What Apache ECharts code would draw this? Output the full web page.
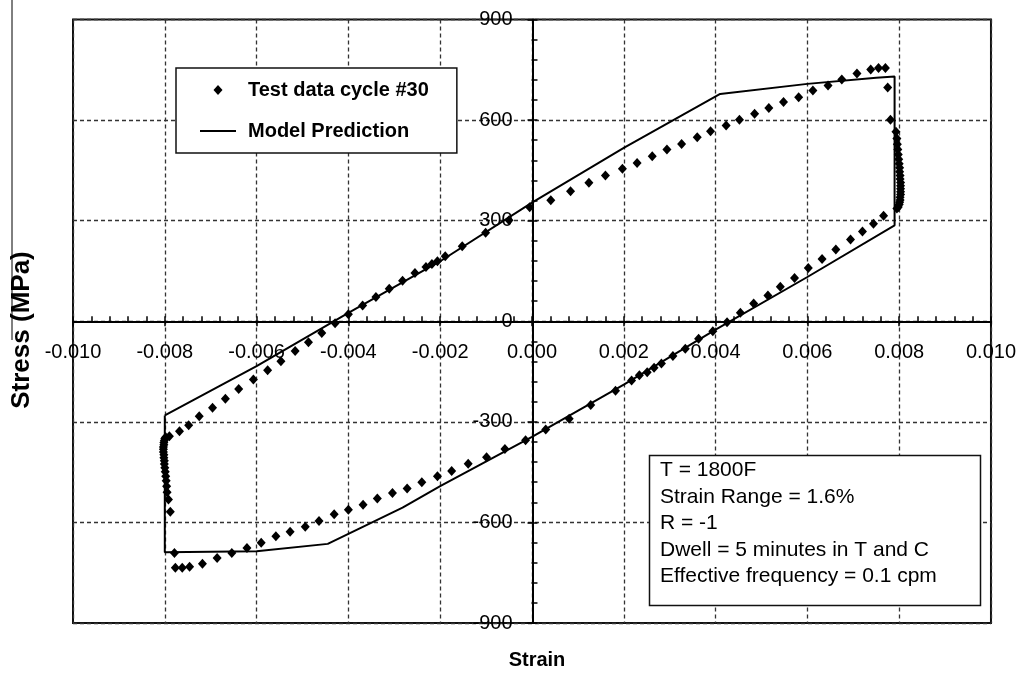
<!DOCTYPE html>
<html><head><meta charset="utf-8">
<script src="https://cdn.jsdelivr.net/npm/echarts@6/dist/echarts.min.js"></script>
<style>html,body{margin:0;padding:0;background:#fff}#c{width:1019px;height:673px}</style>
</head><body><div id="c"></div>
<script>
// ---- axis ticks ----
const xMin = -0.010, xMax = 0.010, xStep = 0.002;
const yMin = -900, yMax = 900, yStep = 300;
const xTickLabels = ['-0.010','-0.008','-0.006','-0.004','-0.002','0.000','0.002','0.004','0.006','0.008','0.010'];
const yTickLabels = ['-900','-600','-300','0','300','600','900'];

// ---- test data cycle #30 (strain, stress MPa) ----
const testStrain = [
 -0.00790,-0.00768,-0.00748,-0.00725,-0.00696,-0.00668,-0.00639,-0.00607,-0.00576,-0.00547,-0.00516,-0.00487,-0.00458,-0.00429,-0.00400,-0.00369,-0.00340,-0.00311,-0.00282,-0.00255,-0.00231,-0.00218,-0.00206,-0.00189,-0.00152,-0.00101,-0.00050,-0.00005,
 0.00041,0.00084,0.00124,0.00160,0.00197,0.00229,0.00262,0.00294,0.00326,0.00360,0.00389,0.00423,0.00452,0.00485,0.00516,0.00548,0.00581,0.00612,0.00645,0.00675,0.00708,0.00738,0.00755,0.00770,
 0.00775,0.00781,0.00793,0.00795,0.00796,0.00797,0.00798,0.00799,0.00800,0.00801,0.00801,0.00802,0.00802,0.00803,0.00803,0.00803,0.00803,0.00803,0.00802,0.00802,0.00801,0.00800,0.00798,0.00795,
 0.00766,0.00744,0.00720,0.00694,0.00662,0.00632,0.00602,0.00572,0.00541,0.00514,0.00483,0.00454,0.00425,0.00394,0.00363,0.00334,0.00307,0.00282,0.00266,0.00251,0.00234,0.00217,0.00182,0.00128,0.00081,0.00030,
 -0.00014,-0.00059,-0.00099,-0.00139,-0.00175,-0.00206,-0.00240,-0.00272,-0.00304,-0.00337,-0.00368,-0.00400,-0.00431,-0.00464,-0.00494,-0.00527,-0.00558,-0.00590,-0.00621,-0.00654,-0.00686,-0.00718,-0.00746,-0.00762,-0.00777,
 -0.00779,-0.00788,-0.00792,-0.00795,-0.00796,-0.00797,-0.00798,-0.00799,-0.00800,-0.00801,-0.00801,-0.00802,-0.00802,-0.00803,-0.00803,-0.00803,-0.00802,-0.00802,-0.00801,-0.00800,-0.00798
];
const testStress = [
 -343,-328,-310,-283,-258,-231,-202,-174,-146,-119,-89,-63,-35,-6,21,47,72,97,121,144,162,171,179,194,224,264,301,340,
 361,388,413,435,455,472,492,512,529,549,567,584,601,619,636,654,668,688,703,721,739,751,755,755,
 697,601,565,545,528,512,497,483,470,458,446,435,424,414,404,395,386,378,370,362,355,348,341,336,
 315,291,268,244,214,186,159,129,103,77,53,25,-3,-30,-52,-82,-104,-126,-139,-152,-161,-177,-207,-250,-291,-323,
 -355,-381,-406,-425,-447,-462,-480,-499,-512,-529,-547,-562,-576,-596,-613,-628,-641,-661,-676,-691,-706,-723,-732,-735,-735,
 -691,-568,-532,-510,-492,-476,-462,-449,-437,-426,-416,-407,-398,-390,-382,-375,-368,-362,-356,-350,-346
];

// ---- model prediction (strain, stress MPa) ----
const modelStrain = [-0.0080,-0.0060,-0.0040,-0.0020,0.0000,0.0020,0.0041,0.0060,0.0075,0.0079,0.0079,0.0060,0.0040,0.0020,0.0000,-0.0020,-0.00282,-0.00445,-0.0060,-0.0080,-0.0080];
const modelStress = [-281,-134,25,179,354,517,678,708,726,730,286,132,-25,-189,-345,-492,-556,-664,-686,-689,-281];

const annotationLines = ['T = 1800F','Strain Range = 1.6%','R = -1','Dwell = 5 minutes in T and C','Effective frequency = 0.1 cpm'];

const testData = testStrain.map((s,i)=>[s,testStress[i]]);
const modelData = modelStrain.map((s,i)=>[s,modelStress[i]]);

const FONT = '"Liberation Sans", Arial, sans-serif';
const ink = '#000';

const xLab = v => xTickLabels[Math.round((v - xMin)/xStep)] ?? '';
const yLab = v => yTickLabels[Math.round((v - yMin)/yStep)] ?? '';

// grid geometry
const G = {left:73, right:27, top:19.5, bottom:50};
const W = 1019, H = 673;
const plotW = W - G.left - G.right, plotH = H - G.top - G.bottom;
const xZeroOff = -plotH * (0 - yMin) / (yMax - yMin);   // move x axes to stress = 0
const yZeroOff = -plotW * (0 - xMin) / (xMax - xMin);   // move y axes to strain = 0

const chart = echarts.init(document.getElementById('c'), null, {renderer:'canvas'});
chart.setOption({
  animation:false,
  backgroundColor:'#fff',
  grid:{left:G.left, right:G.right, top:G.top, bottom:G.bottom, show:true, borderColor:'#111', borderWidth:2, backgroundColor:'transparent'},
  xAxis:[{
    type:'value', min:xMin, max:xMax, interval:xStep, position:'bottom', offset:xZeroOff,
    axisLine:{show:true, onZero:false, lineStyle:{color:ink, width:2}},
    axisTick:{show:true, inside:false, length:5, lineStyle:{color:ink, width:1.5}},
    minorTick:{show:false},
    axisLabel:{show:true, margin:21, formatter:xLab, fontSize:20, color:ink, fontFamily:FONT},
    splitLine:{show:true, lineStyle:{type:[4,3], color:'#333', width:1.3}}
  },{
    type:'value', min:xMin, max:xMax, interval:xStep, position:'top', offset:-plotH - xZeroOff,
    axisLine:{show:false, onZero:false},
    axisTick:{show:true, inside:false, length:5, lineStyle:{color:ink, width:1.5}},
    minorTick:{show:true, splitNumber:5, length:5, lineStyle:{color:ink, width:1.5}},
    axisLabel:{show:false}, splitLine:{show:false}
  }],
  yAxis:[{
    type:'value', min:yMin, max:yMax, interval:yStep, position:'left', offset:yZeroOff,
    axisLine:{show:true, onZero:false, lineStyle:{color:ink, width:2}},
    axisTick:{show:true, inside:false, length:5, lineStyle:{color:ink, width:1.5}},
    minorTick:{show:false},
    axisLabel:{show:true, margin:20, formatter:yLab, fontSize:20, color:ink, fontFamily:FONT},
    splitLine:{show:true, lineStyle:{type:[4,3], color:'#333', width:1.3}}
  },{
    type:'value', min:yMin, max:yMax, interval:yStep, position:'right', offset:-plotW - yZeroOff,
    axisLine:{show:false, onZero:false},
    axisTick:{show:true, inside:false, length:6, lineStyle:{color:ink, width:1.5}},
    minorTick:{show:true, splitNumber:5, length:6, lineStyle:{color:ink, width:1.5}},
    axisLabel:{show:false}, splitLine:{show:false}
  }],
  legend:{
    show:true, orient:'vertical', left:176, top:68,
    padding:[12,28,12,24], itemGap:21, itemWidth:36, itemHeight:10,
    borderColor:'#111', borderWidth:1.5, backgroundColor:'#fff',
    selectedMode:false, symbolKeepAspect:true,
    textStyle:{fontSize:20, fontWeight:'bold', fontFamily:FONT, color:ink, padding:[0,0,0,7]},
    data:[
      {name:'Test data cycle #30', icon:'path://M0,0L0,0M36,10L36,10M18,0L22.5,5L18,10L13.5,5Z'},
      {name:'Model Prediction', icon:'path://M0,4L36,4L36,6L0,6Z'}
    ]
  },
  series:[{
    name:'Test data cycle #30', type:'scatter', xAxisIndex:0, yAxisIndex:0,
    symbol:'diamond', symbolSize:[9,10], itemStyle:{color:ink, opacity:1},
    data:testData, z:3
  },{
    name:'Model Prediction', type:'line', xAxisIndex:0, yAxisIndex:0,
    symbol:'none', showSymbol:false, lineStyle:{color:ink, width:2}, itemStyle:{color:ink},
    data:modelData, z:4
  }],
  graphic:[
    {type:'line', shape:{x1:12,y1:0,x2:12,y2:340}, style:{stroke:'#000', lineWidth:1}, silent:true},
    {type:'rect', shape:{x:649.5, y:455.5, width:331, height:150}, style:{fill:'#fff', stroke:'#111', lineWidth:1.5}, z:100},
    {type:'text', x:660, y:457, z:101, style:{text:annotationLines.join('\n'), font:'21px "Liberation Sans", Arial, sans-serif', lineHeight:26.5, fill:ink, align:'left', verticalAlign:'top'}},
    {type:'text', x:537, y:660, style:{text:'Strain', font:'bold 20px "Liberation Sans", Arial, sans-serif', fill:ink, align:'center', verticalAlign:'middle'}},
    {type:'text', x:22, y:330, rotation:Math.PI/2, style:{text:'Stress (MPa)', font:'bold 26px "Liberation Sans", Arial, sans-serif', fill:ink, align:'center', verticalAlign:'middle'}}
  ]
});
</script></body></html>
